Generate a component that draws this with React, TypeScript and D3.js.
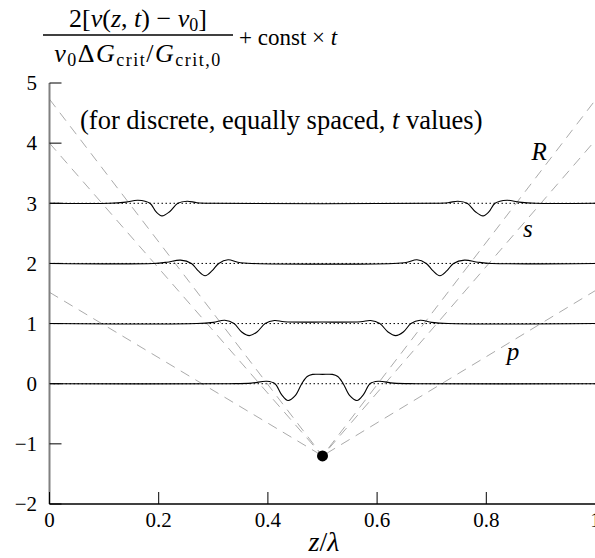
import React from 'react';
import * as d3 from 'd3';

// levels of the four snapshots (offset by const × t)
const levels = [0, 1, 2, 3];

// traces: [z/λ, value]
const trace0: [number, number][] = [
  [0, 0], [0.33, 0], [0.37, 0.01], [0.398, 0.04], [0.413, 0.0], [0.425, -0.18], [0.437, -0.28],
  [0.45, -0.2], [0.462, 0.0], [0.472, 0.12], [0.482, 0.155], [0.5, 0.155], [0.518, 0.155],
  [0.528, 0.12], [0.538, 0.0], [0.55, -0.2], [0.563, -0.28], [0.575, -0.18], [0.587, 0.0],
  [0.602, 0.04], [0.63, 0.01], [0.67, 0], [1, 0],
];
const trace1: [number, number][] = [
  [0, 1], [0.27, 1], [0.3, 1.02], [0.321, 1.055], [0.338, 1.0], [0.352, 0.86], [0.366, 0.8],
  [0.38, 0.86], [0.395, 1.0], [0.412, 1.05], [0.43, 1.03], [0.5, 1.025], [0.57, 1.03],
  [0.588, 1.05], [0.605, 1.0], [0.62, 0.86], [0.634, 0.8], [0.648, 0.86], [0.662, 1.0],
  [0.679, 1.055], [0.7, 1.02], [0.73, 1], [1, 1],
];
const trace2: [number, number][] = [
  [0, 2], [0.19, 2], [0.215, 2.02], [0.24, 2.055], [0.26, 2.0], [0.272, 1.88], [0.285, 1.795],
  [0.298, 1.88], [0.31, 2.0], [0.327, 2.06], [0.345, 2.02], [0.37, 2], [0.63, 2],
  [0.655, 2.02], [0.673, 2.06], [0.69, 2.0], [0.702, 1.88], [0.715, 1.795], [0.728, 1.88],
  [0.74, 2.0], [0.76, 2.055], [0.785, 2.02], [0.81, 2], [1, 2],
];
const trace3: [number, number][] = [
  [0, 3], [0.11, 3], [0.14, 3.02], [0.162, 3.05], [0.184, 3.0], [0.195, 2.86], [0.206, 2.79],
  [0.22, 2.86], [0.235, 3.0], [0.252, 3.035], [0.27, 3.01], [0.3, 3], [0.7, 3],
  [0.73, 3.01], [0.748, 3.035], [0.765, 3.0], [0.78, 2.86], [0.794, 2.79], [0.805, 2.86],
  [0.816, 3.0], [0.838, 3.05], [0.86, 3.02], [0.89, 3], [1, 3],
];
const traces = [trace0, trace1, trace2, trace3];

// source point and the wave-front lines (intercepts at z/λ = 0 and 1)
const source: [number, number] = [0.5, -1.2];
const fronts = [
  { name: 'p', left: 1.52, right: 1.55 },
  { name: 's', left: 4.0, right: 4.05 },
  { name: 'R', left: 4.73, right: 4.72 },
];
const frontLabels = [
  { text: 'R', z: 0.897, v: 3.72 },
  { text: 's', z: 0.876, v: 2.44 },
  { text: 'p', z: 0.849, v: 0.39 },
];

const xTicks = [0, 0.2, 0.4, 0.6, 0.8, 1];
const xTickLabels = ['0', '0.2', '0.4', '0.6', '0.8', '1'];
const yTicks = [-2, -1, 0, 1, 2, 3, 4, 5];
const yTickLabels = ['\u22122', '\u22121', '0', '1', '2', '3', '4', '5'];

const W = 595;
const H = 558;
const serif = "'Liberation Serif', 'DejaVu Serif', serif";

export default function App() {
  const x = d3.scaleLinear().domain([0, 1]).range([49.5, 595.5]);
  const y = d3.scaleLinear().domain([-2, 5]).range([504, 83]);

  const line = d3
    .line<[number, number]>()
    .x((d) => x(d[0]))
    .y((d) => y(d[1]))
    .curve(d3.curveCatmullRom.alpha(0.5));

  const straight = d3
    .line<[number, number]>()
    .x((d) => x(d[0]))
    .y((d) => y(d[1]));

  return (
    <svg
      width={W}
      height={H}
      style={{ position: 'absolute', left: 0, top: 0, background: '#fff', fontFamily: serif }}
    >
      {/* title */}
      <g fontSize={26} fill="#000">
        <text x={138} y={27} textAnchor="middle">
          2[<tspan fontStyle="italic">v</tspan>(<tspan fontStyle="italic">z</tspan>,{' '}
          <tspan fontStyle="italic">t</tspan>) − <tspan fontStyle="italic">v</tspan>
          <tspan fontSize={18} dy={4}>0</tspan>
          <tspan dy={-4}>]</tspan>
        </text>
        <line x1={43} x2={233} y1={35} y2={35} stroke="#000" strokeWidth={1.3} />
        <text x={138} y={62} textAnchor="middle" letterSpacing={1.5}>
          <tspan fontStyle="italic">v</tspan>
          <tspan fontSize={18} dy={4}>0</tspan>
          <tspan dy={-4}>Δ</tspan>
          <tspan fontStyle="italic">G</tspan>
          <tspan fontSize={18} dy={4}>crit</tspan>
          <tspan dy={-4}>/</tspan>
          <tspan fontStyle="italic">G</tspan>
          <tspan fontSize={18} dy={4}>crit,0</tspan>
        </text>
        <text x={239} y={45} fontSize={23}>
          + const × <tspan fontStyle="italic">t</tspan>
        </text>
      </g>

      {/* dotted reference levels */}
      {levels.map((lv) => (
        <line
          key={`lv${lv}`}
          x1={x(0)}
          x2={x(1)}
          y1={y(lv)}
          y2={y(lv)}
          stroke="#000"
          strokeWidth={1}
          strokeDasharray="1.5,2.5"
        />
      ))}

      {/* wave-front lines */}
      {fronts.map((f) => (
        <path
          key={f.name}
          d={straight([[0, f.left], source, [1, f.right]]) || ''}
          fill="none"
          stroke="#a0a0a0"
          strokeWidth={0.9}
          strokeDasharray="10,7"
        />
      ))}

      {/* traces */}
      {traces.map((t, i) => (
        <path key={`tr${i}`} d={line(t) || ''} fill="none" stroke="#000" strokeWidth={1.1} />
      ))}

      <circle cx={x(source[0])} cy={y(source[1])} r={5.5} fill="#000" />

      {frontLabels.map((l) => (
        <text
          key={l.text}
          x={x(l.z)}
          y={y(l.v)}
          textAnchor="middle"
          fontSize={25}
          fontStyle="italic"
        >
          {l.text}
        </text>
      ))}

      <text x={80} y={129} fontSize={26.5}>
        (for discrete, equally spaced, <tspan fontStyle="italic">t</tspan> values)
      </text>

      {/* axes */}
      <line x1={x(0)} x2={x(0)} y1={y(5)} y2={y(-2)} stroke="#808080" strokeWidth={2} />
      <line x1={x(0)} x2={x(1)} y1={y(-2)} y2={y(-2)} stroke="#000" strokeWidth={1.5} />
      {yTicks.map((v, i) => (
        <g key={`yt${v}`}>
          <line x1={x(0)} x2={x(0) + 12} y1={y(v)} y2={y(v)} stroke="#000" strokeWidth={1} />
          <text x={37} y={y(v)} dy="0.35em" textAnchor="end" fontSize={21}>
            {yTickLabels[i]}
          </text>
        </g>
      ))}
      {xTicks.map((v, i) => (
        <g key={`xt${v}`}>
          <line x1={x(v)} x2={x(v)} y1={y(-2)} y2={y(-2) - 12} stroke="#000" strokeWidth={1} />
          <text x={x(v)} y={527} textAnchor="middle" fontSize={21}>
            {xTickLabels[i]}
          </text>
        </g>
      ))}
      <text x={324} y={551} textAnchor="middle" fontSize={28}>
        <tspan fontStyle="italic">z</tspan>/<tspan fontStyle="italic">λ</tspan>
      </text>
    </svg>
  );
}
